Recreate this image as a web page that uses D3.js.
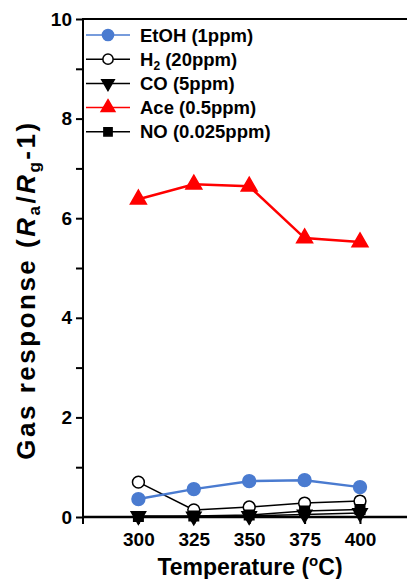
<!DOCTYPE html>
<html lang="en">
<head>
  <meta charset="UTF-8">
  <title>Gas response vs temperature</title>
  <script src="https://d3js.org/d3.v7.min.js"></script>
  <style>
    body { margin: 0; background: #fff; }
    svg { font-family: Arial, "Liberation Sans", sans-serif; font-weight: bold; }
  </style>
</head>
<body>
  <svg width="407" height="579"></svg>
  <script>
    const temps = [300, 325, 350, 375, 400];
    const etoh = [0.36, 0.56, 0.72, 0.74, 0.60];
    const h2 = [0.70, 0.14, 0.20, 0.28, 0.32];
    const co = [0.02, 0.01, 0.02, 0.05, 0.08];
    const ace = [6.38, 6.68, 6.64, 5.60, 5.52];
    const no = [0.01, 0.02, 0.04, 0.12, 0.15];
    const yTicks = [0, 2, 4, 6, 8, 10];

    const series = [
      { name: "EtOH (1ppm)", values: etoh, color: "#4a7bd0", symbol: d3.symbolCircle, fill: "#4a7bd0", size: 130, width: 2.5 },
      { name: "H2", values: h2, color: "#000", symbol: d3.symbolCircle, fill: "#fff", size: 110, width: 1.5 },
      { name: "CO (5ppm)", values: co, color: "#000", symbol: d3.symbolTriangle, fill: "#000", size: 90, width: 1.5, flip: true },
      { name: "Ace (0.5ppm)", values: ace, color: "#ff0000", symbol: d3.symbolTriangle, fill: "#ff0000", size: 110, width: 2.5 },
      { name: "NO (0.025ppm)", values: no, color: "#000", symbol: d3.symbolSquare, fill: "#000", size: 90, width: 1.5 }
    ];

    const svg = d3.select("svg");
    const x = d3.scaleLinear().domain([275, 400]).range([83, 360]);
    const y = d3.scaleLinear().domain([0, 10]).range([517, 19]);

    // axes
    const yAxis = d3.axisLeft(y).tickValues(d3.range(0, 11)).tickSize(7)
      .tickFormat(d => yTicks.includes(d) ? d : "");
    const gy = svg.append("g").attr("transform", "translate(83,0)").call(yAxis);
    gy.select(".domain").remove();
    gy.selectAll(".tick line").attr("stroke", "#000").attr("stroke-width", 2);
    gy.selectAll(".tick text").attr("font-size", 19).attr("font-weight", "bold").attr("fill", "#000").attr("x", -11);
    svg.append("line").attr("x1", 83).attr("x2", 83).attr("y1", 18).attr("y2", 524)
      .attr("stroke", "#000").attr("stroke-width", 2);

    const xAxis = d3.axisBottom(x).tickValues(temps).tickSize(7);
    const gx = svg.append("g").attr("transform", "translate(0,517)").call(xAxis);
    gx.select(".domain").remove();
    gx.selectAll(".tick line").attr("stroke", "#000").attr("stroke-width", 2);
    gx.selectAll(".tick text").attr("font-size", 19).attr("font-weight", "bold").attr("fill", "#000")
      .attr("y", 29).attr("dy", 0);
    svg.append("line").attr("x1", 82).attr("x2", 407).attr("y1", 517).attr("y2", 517)
      .attr("stroke", "#000").attr("stroke-width", 2.5);
    svg.append("line").attr("x1", 82).attr("x2", 407).attr("y1", 19).attr("y2", 19)
      .attr("stroke", "#000").attr("stroke-width", 2);

    // series lines and markers
    const line = d3.line().x((d, i) => x(temps[i])).y(d => y(d));
    series.slice().reverse().forEach(s => {
      svg.append("path").attr("d", line(s.values)).attr("fill", "none")
        .attr("stroke", s.color).attr("stroke-width", s.width);
    });
    series.forEach(s => {
      svg.selectAll(null).data(s.values).enter().append("path")
        .attr("d", d3.symbol().type(s.symbol).size(s.size))
        .attr("transform", (d, i) => `translate(${x(temps[i])},${y(d)})${s.flip ? " rotate(180)" : ""}`)
        .attr("fill", s.fill).attr("stroke", s.color).attr("stroke-width", 1.5);
    });

    // legend
    const legend = svg.append("g");
    series.forEach((s, i) => {
      const ly = 35 + i * 24.2;
      legend.append("line").attr("x1", 86).attr("x2", 130).attr("y1", ly).attr("y2", ly)
        .attr("stroke", s.color).attr("stroke-width", 1.5);
      legend.append("path").attr("d", d3.symbol().type(s.symbol).size(s.size * 0.75))
        .attr("transform", `translate(108,${ly})${s.flip ? " rotate(180)" : ""}`)
        .attr("fill", s.fill).attr("stroke", s.color).attr("stroke-width", 1.5);
      const t = legend.append("text").attr("x", 140).attr("y", ly + 6.5).attr("font-size", 18.5);
      if (s.name === "H2") {
        t.append("tspan").text("H");
        t.append("tspan").attr("font-size", 12).attr("dy", 4).text("2");
        t.append("tspan").attr("dy", -4).text(" (20ppm)");
      } else {
        t.text(s.name);
      }
    });

    // axis titles
    const yl = svg.append("text").attr("transform", "translate(35,290) rotate(-90)")
      .attr("text-anchor", "middle").attr("font-size", 26).attr("letter-spacing", 2.5);
    yl.append("tspan").text("Gas response (");
    yl.append("tspan").attr("font-style", "italic").text("R");
    yl.append("tspan").attr("font-size", 17).attr("dy", 5).text("a");
    yl.append("tspan").attr("dy", -5).text("/");
    yl.append("tspan").attr("font-style", "italic").text("R");
    yl.append("tspan").attr("font-size", 17).attr("dy", 5).text("g");
    yl.append("tspan").attr("dy", -5).text("-1)");

    const xl = svg.append("text").attr("x", 250).attr("y", 575)
      .attr("text-anchor", "middle").attr("font-size", 23);
    xl.append("tspan").text("Temperature (");
    xl.append("tspan").attr("font-size", 15).attr("dy", -9).text("o");
    xl.append("tspan").attr("dy", 9).text("C)");
  </script>
</body>
</html>
